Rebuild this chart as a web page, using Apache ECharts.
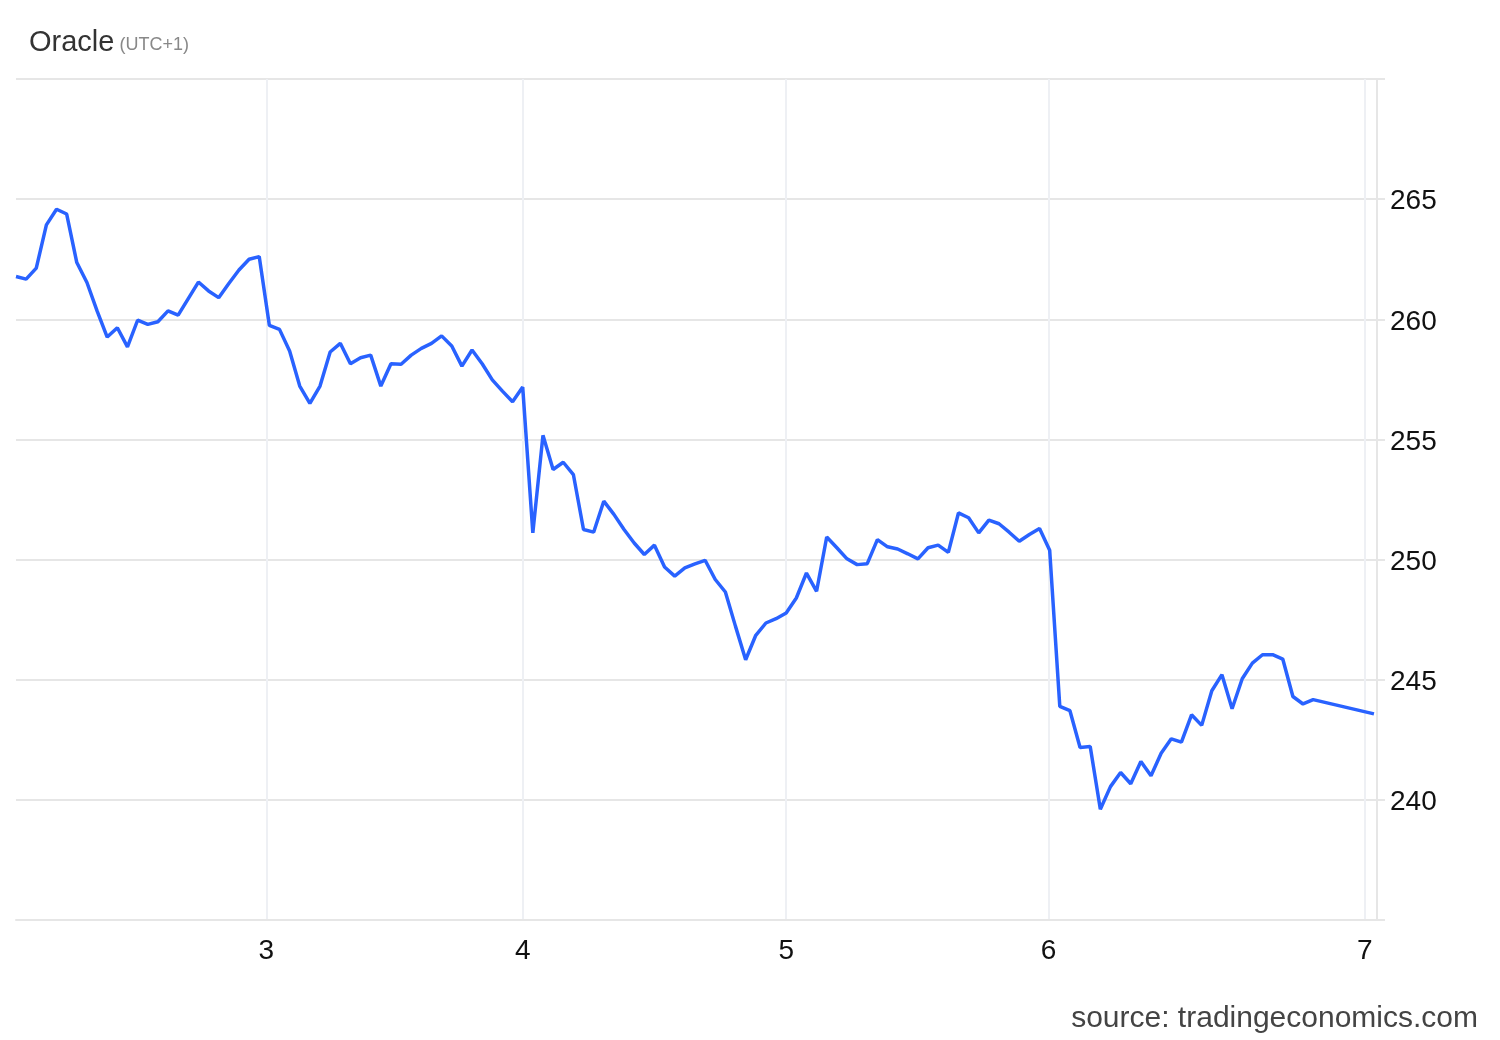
<!DOCTYPE html>
<html>
<head>
<meta charset="utf-8">
<script src="https://cdn.jsdelivr.net/npm/echarts@6/dist/echarts.min.js"></script>
<style>
html,body{margin:0;padding:0;background:#fff;}
#chart{width:1500px;height:1040px;}
</style>
</head>
<body>
<div id="chart"></div>
<script>
// Oracle price, consecutive intraday steps (step index = position in array)
const priceValues = [
  261.78, 261.67, 262.13, 263.93, 264.58, 264.38, 262.36, 261.53, 260.35, 259.26,
  259.65, 258.85, 259.96, 259.79, 259.90, 260.35, 260.17, 260.86, 261.55, 261.18,
  260.90, 261.49, 262.05, 262.50, 262.61, 259.75, 259.58, 258.68, 257.22, 256.50,
  257.22, 258.64, 259.00, 258.15, 258.40, 258.51, 257.22, 258.15, 258.13, 258.51,
  258.79, 259.00, 259.31, 258.89, 258.05, 258.72, 258.15, 257.48, 257.01, 256.57,
  257.18, 251.11, 255.17, 253.75, 254.05, 253.54, 251.25, 251.14, 252.43, 251.88,
  251.25, 250.69, 250.21, 250.60, 249.69, 249.31, 249.65, 249.82, 249.97, 249.17,
  248.65, 247.22, 245.83, 246.85, 247.36, 247.54, 247.78, 248.40, 249.44, 248.68,
  250.94, 250.49, 250.03, 249.79, 249.83, 250.83, 250.53, 250.44, 250.24, 250.03,
  250.49, 250.60, 250.30, 251.94, 251.74, 251.11, 251.64, 251.49, 251.14, 250.76,
  251.04, 251.29, 250.39, 243.89, 243.71, 242.18, 242.22, 239.61, 240.55, 241.14,
  240.67, 241.60, 241.00, 241.94, 242.54, 242.40, 243.54, 243.10, 244.54, 245.21,
  243.79, 245.04, 245.69, 246.04, 246.04, 245.86, 244.30, 243.99, 244.17
];
// final quote after a gap
const lastStep = 134;
const lastPrice = 243.58;

// day ticks (in step units) and their labels
const dayTickSteps = [24.7, 50, 76, 101.9, 133.1];
const dayTickLabels = ['3', '4', '5', '6', '7'];

// price axis
const priceMin = 235;
const priceMax = 270;
const priceStep = 5;

const titleText = 'Oracle';
const titleNote = '(UTC+1)';
const sourceText = 'source: tradingeconomics.com';

const seriesData = priceValues.map((v, i) => [i, v]);
seriesData.push([lastStep, lastPrice]);

const FONT = 'Arial, "Liberation Sans", sans-serif';

const chart = echarts.init(document.getElementById('chart'), null, {renderer: 'canvas'});
chart.setOption({
  backgroundColor: '#ffffff',
  animation: false,
  title: [
    {
      text: '{a|' + titleText + '} {b|' + titleNote + '}',
      left: 29,
      top: 28,
      padding: 0,
      textStyle: {
        rich: {
          a: {fontFamily: FONT, fontSize: 29, color: '#333333', fontWeight: 'normal'},
          b: {fontFamily: FONT, fontSize: 18, color: '#888888', fontWeight: 'normal', padding: [6, 0, 0, 0]}
        }
      }
    },
    {
      text: sourceText,
      right: 22,
      bottom: 6,
      padding: 0,
      textStyle: {fontFamily: FONT, fontSize: 30, color: '#444444', fontWeight: 'normal'}
    }
  ],
  grid: {left: 16, right: 123, top: 79, bottom: 120, containLabel: false},
  xAxis: {
    type: 'value',
    min: 0,
    max: 134.3,
    axisLine: {show: true, onZero: false, lineStyle: {color: '#e6e6e6', width: 2}},
    axisTick: {show: false, customValues: dayTickSteps},
    axisLabel: {
      customValues: dayTickSteps,
      fontFamily: FONT,
      fontSize: 28,
      color: '#111111',
      margin: 17,
      formatter: function (v) {
        const idx = dayTickSteps.indexOf(v);
        return idx >= 0 ? dayTickLabels[idx] : '';
      }
    },
    splitLine: {show: true, lineStyle: {color: '#eef0f4', width: 2}}
  },
  yAxis: {
    type: 'value',
    position: 'right',
    min: priceMin,
    max: priceMax,
    interval: priceStep,
    axisLine: {show: true, onZero: false, lineStyle: {color: '#e6e6e6', width: 2}},
    axisTick: {show: true, length: 8, inside: false, lineStyle: {color: '#e6e6e6', width: 2}},
    axisLabel: {
      fontFamily: FONT,
      fontSize: 28,
      color: '#111111',
      margin: 13,
      formatter: function (v) {
        return (v === priceMin || v === priceMax) ? '' : '{v|' + v + '}';
      },
      rich: {
        v: {fontFamily: FONT, fontSize: 28, color: '#111111', padding: [5, 0, 0, 0]}
      }
    },
    splitLine: {show: true, lineStyle: {color: '#e6e6e6', width: 2}}
  },
  series: [{
    type: 'line',
    data: seriesData,
    showSymbol: false,
    symbol: 'none',
    lineStyle: {color: '#2962ff', width: 3.5},
    z: 5
  }]
});
</script>
</body>
</html>
